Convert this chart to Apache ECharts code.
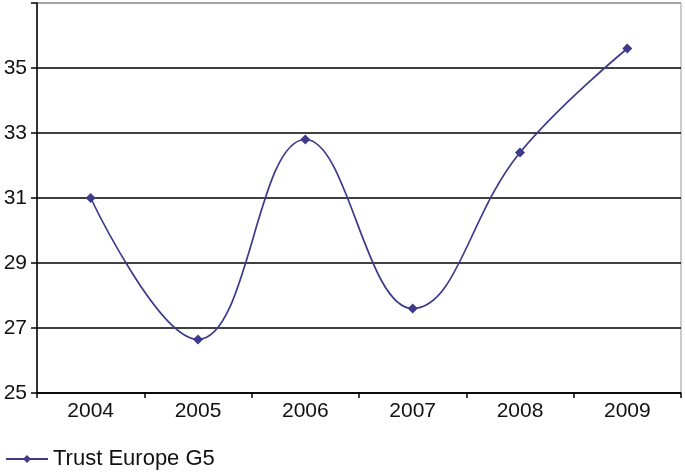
<!DOCTYPE html>
<html style="height: 100%">
   <head>
       <meta charset="utf-8">
   </head>
   <body style="height: 100%; margin: 0; background: #fff">
       <div id="container" style="width: 685px; height: 472px"></div>
       <script type="text/javascript" src="https://cdn.jsdelivr.net/npm/echarts@6/dist/echarts.min.js"></script>
       <script type="text/javascript">
var years = ['2004', '2005', '2006', '2007', '2008', '2009'];
var trustValues = [31.0, 26.65, 32.8, 27.6, 32.4, 35.6];
var seriesName = 'Trust Europe G5';

var dom = document.getElementById("container");
var myChart = echarts.init(dom);
var lineColor = '#3d3a8a';
var fontFam = 'Liberation Sans, Arial, sans-serif';

var option = {
    backgroundColor: '#fff',
    animation: false,
    grid: {
        left: 37,
        right: 4,
        top: 3,
        bottom: 79,
        show: true,
        borderColor: '#999',
        borderWidth: 1
    },
    legend: {
        left: 0,
        top: 443,
        itemWidth: 42,
        itemHeight: 10,
        itemGap: 6,
        data: [seriesName],
        textStyle: {
            color: '#111',
            fontSize: 22,
            fontFamily: fontFam
        }
    },
    xAxis: {
        type: 'category',
        data: years,
        boundaryGap: true,
        axisLine: { lineStyle: { color: '#000', width: 1.5 } },
        axisTick: { show: true, length: 5, lineStyle: { color: '#000', width: 1.5 } },
        axisLabel: {
            color: '#111',
            fontSize: 21,
            fontFamily: fontFam,
            margin: 8
        },
        splitLine: { show: false }
    },
    yAxis: {
        type: 'value',
        min: 25,
        max: 37,
        interval: 2,
        axisLine: { show: true, lineStyle: { color: '#000', width: 1.5 } },
        axisTick: { show: true, length: 6, lineStyle: { color: '#000', width: 1.5 } },
        axisLabel: {
            color: '#111',
            fontSize: 21,
            fontFamily: fontFam,
            margin: 10,
            formatter: function (v) { return v === 37 ? '' : String(v); }
        },
        splitLine: {
            show: true,
            lineStyle: {
                color: ['#000', '#000', '#000', '#000', '#000', '#000', '#999'],
                width: 1.5
            }
        }
    },
    series: [
        {
            name: seriesName,
            type: 'line',
            data: trustValues,
            smooth: 0.42,
            symbol: 'diamond',
            symbolSize: 10,
            color: lineColor,
            lineStyle: { color: lineColor, width: 1.7 },
            itemStyle: { color: lineColor }
        }
    ]
};
myChart.setOption(option, true);
       </script>
   </body>
</html>
